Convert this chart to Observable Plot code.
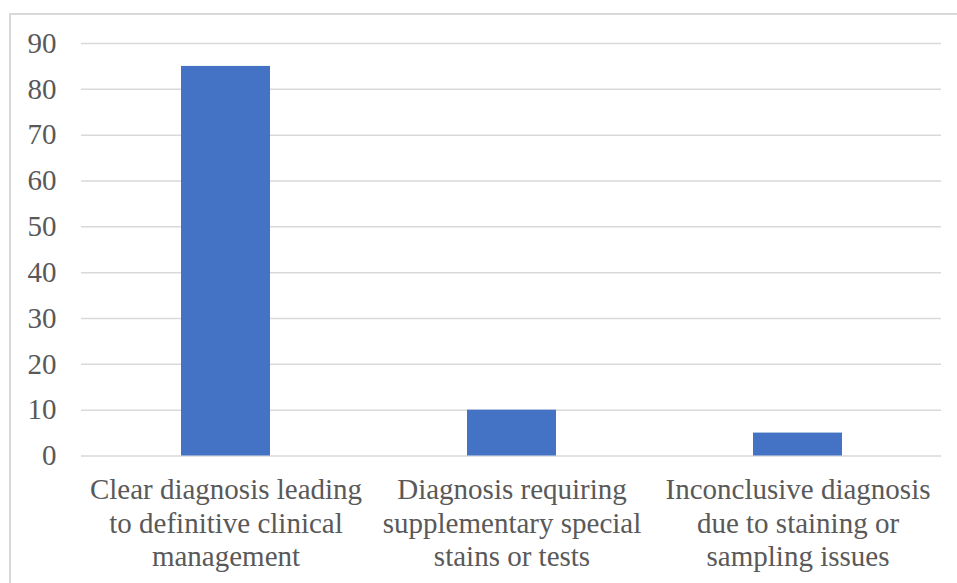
<!DOCTYPE html>
<html>
<head>
<meta charset="utf-8">
<script src="https://cdn.jsdelivr.net/npm/d3@7"></script>
<script src="https://cdn.jsdelivr.net/npm/@observablehq/plot@0.6"></script>
<style>
  html, body { margin: 0; padding: 0; background: #fff; }
  #wrap { position: relative; width: 957px; height: 583px; overflow: hidden; }
  #frame { position: absolute; left: 9px; top: 13px; width: 2000px; height: 2000px;
           border-left: 2px solid #d9d9d9; border-top: 2px solid #d9d9d9; pointer-events: none; }
  #chart { position: absolute; left: 0; top: 0; }
</style>
</head>
<body>
<div id="wrap"><div id="chart"></div><div id="frame"></div></div>
<script>
const categories = [
  "Clear diagnosis leading\nto definitive clinical\nmanagement",
  "Diagnosis requiring\nsupplementary special\nstains or tests",
  "Inconclusive diagnosis\ndue to staining or\nsampling issues"
];
const values = [85, 10, 5];
const yTicks = [0, 10, 20, 30, 40, 50, 60, 70, 80, 90];

const data = categories.map((c, i) => ({category: c, value: values[i]}));

const chart = Plot.plot({
  width: 957,
  height: 583,
  marginLeft: 81,
  marginRight: 16,
  marginTop: 43,
  marginBottom: 127.5,
  style: {fontFamily: "'Liberation Serif', 'Times New Roman', serif", fontSize: "29px", color: "#595959", background: "transparent"},
  x: {domain: categories, paddingInner: 0.69, paddingOuter: 0.345, label: null},
  y: {domain: [0, 90], label: null},
  marks: [
    Plot.gridY(yTicks, {stroke: "#d9d9d9", strokeOpacity: 1, strokeWidth: 1.5}),
    Plot.barY(data, {x: "category", y: "value", fill: "#4472C4"}),
    Plot.axisY(yTicks, {tickSize: 0, tickPadding: 25, label: null, fontSize: 29, fill: "#595959"}),
    Plot.axisX({tickSize: 0, tickPadding: 20, label: null, fontSize: 29, lineHeight: 1.14, fill: "#595959"})
  ]
});
document.getElementById("chart").appendChild(chart);
</script>
</body>
</html>
